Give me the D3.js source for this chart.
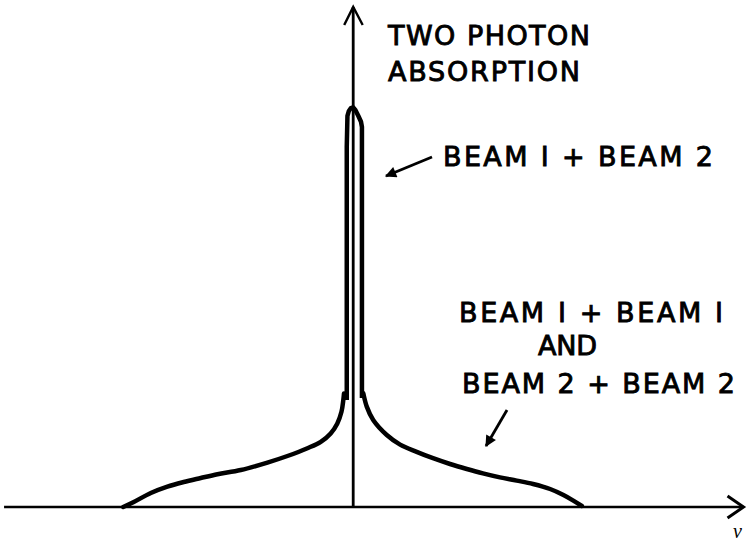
<!DOCTYPE html>
<html>
<head>
<meta charset="utf-8">
<script src="https://cdn.jsdelivr.net/npm/d3@7"></script>
<style>
  html, body { margin: 0; padding: 0; background: #fff; }
  svg { display: block; }
  .lbl { font-family: "DejaVu Sans", "Liberation Sans", sans-serif; font-size: 27px; fill: #000; stroke: #000; stroke-width: 0.9px; }
  .nu { font-family: "Liberation Serif", "Times New Roman", serif; font-style: italic; font-size: 20px; fill: #000; }
</style>
</head>
<body>
<script>
// ---- data (frequency detuning units, normalised absorption) ----
// Broad Doppler background: BEAM 1 + BEAM 1 and BEAM 2 + BEAM 2
const broadLeftX  = [-1.000, -0.954, -0.880, -0.808, -0.737, -0.663, -0.590, -0.489, -0.373, -0.286, -0.199, -0.141, -0.098, -0.069, -0.051, -0.043, -0.040];
const broadLeftY  = [ 0.000,  0.0125, 0.035,  0.051,  0.0625, 0.0725, 0.082,  0.0925, 0.111,  0.1275, 0.147,  0.163,  0.184,  0.209,  0.238,  0.2675, 0.284];
const broadRightX = [0.044, 0.059, 0.087, 0.146, 0.204, 0.276, 0.347, 0.421, 0.494, 0.564, 0.638, 0.711, 0.782, 0.856, 0.914, 0.957, 0.994];
const broadRightY = [0.284, 0.251, 0.2175, 0.180, 0.156, 0.138, 0.122, 0.1075, 0.095, 0.084, 0.074, 0.066, 0.0575, 0.045, 0.030, 0.016, 0.0025];
// Narrow Doppler-free peak: BEAM 1 + BEAM 2
const peakX = [-0.028, -0.028, -0.025, -0.019, -0.010, 0.000, 0.010, 0.022, 0.034, 0.038, 0.038];
const peakY = [ 0.2675, 0.90,   0.978,  0.990,   0.997,  0.999, 0.992, 0.978, 0.963, 0.950, 0.2725];
// axis extents
const xAxisExtent = [-1.518, 1.697];
const yAxisExtent = [0, 1.25];
// labels
const titleLines = ["TWO PHOTON", "ABSORPTION"];
const crossLabel = "BEAM I + BEAM 2";
const selfLabels = ["BEAM I + BEAM I", "AND", "BEAM 2 + BEAM 2"];
const xLabel = "ν";

// ---- layout ----
const W = 748, H = 543;
const x = d3.scaleLinear().domain([-1.5, 1.7]).range([8.2, 744.2]);
const y = d3.scaleLinear().domain([0, 1]).range([507, 107]);

const svg = d3.select("body").append("svg").attr("width", W).attr("height", H);

const zip = (xs, ys) => xs.map((v, i) => [v, ys[i]]);
const line = d3.line().x(d => x(d[0])).y(d => y(d[1]));

// axes
svg.append("line")
  .attr("x1", x(xAxisExtent[0])).attr("x2", x(xAxisExtent[1]))
  .attr("y1", y(0)).attr("y2", y(0))
  .attr("stroke", "#000").attr("stroke-width", 2.5);
svg.append("path")
  .attr("d", `M${x(xAxisExtent[1]) - 16},${y(0) - 11} L${x(xAxisExtent[1])},${y(0)} L${x(xAxisExtent[1]) - 16},${y(0) + 11}`)
  .attr("fill", "none").attr("stroke", "#000").attr("stroke-width", 3).attr("stroke-linejoin", "miter");

svg.append("line")
  .attr("x1", x(0)).attr("x2", x(0))
  .attr("y1", y(yAxisExtent[0])).attr("y2", y(yAxisExtent[1]))
  .attr("stroke", "#000").attr("stroke-width", 2.8);
svg.append("path")
  .attr("d", `M${x(0) - 9},${y(yAxisExtent[1]) + 18} L${x(0)},${y(yAxisExtent[1])} L${x(0) + 9.5},${y(yAxisExtent[1]) + 18}`)
  .attr("fill", "none").attr("stroke", "#000").attr("stroke-width", 2.4);

// broad curve
svg.append("path")
  .attr("d", line.curve(d3.curveCatmullRom.alpha(0.5))(zip(broadLeftX, broadLeftY)))
  .attr("fill", "none").attr("stroke", "#000").attr("stroke-width", 4.5).attr("stroke-linecap", "round");
svg.append("path")
  .attr("d", line.curve(d3.curveCatmullRom.alpha(0.5))(zip(broadRightX, broadRightY)))
  .attr("fill", "none").attr("stroke", "#000").attr("stroke-width", 4.5).attr("stroke-linecap", "round");

// narrow peak
svg.append("path")
  .attr("d", line.curve(d3.curveLinear)(zip(peakX, peakY)))
  .attr("fill", "none").attr("stroke", "#000").attr("stroke-width", 4.5).attr("stroke-linejoin", "round");

// arrow marker
svg.append("defs").append("marker")
  .attr("id", "ah").attr("viewBox", "0 0 10 10").attr("refX", 9).attr("refY", 5)
  .attr("markerWidth", 5).attr("markerHeight", 4).attr("orient", "auto").attr("markerUnits", "strokeWidth")
  .append("path").attr("d", "M0,0 L10,5 L0,10 Z").attr("fill", "#000");

svg.append("line").attr("x1", 432).attr("y1", 157).attr("x2", 386).attr("y2", 176)
  .attr("stroke", "#000").attr("stroke-width", 2.8).attr("marker-end", "url(#ah)");
svg.append("line").attr("x1", 507).attr("y1", 410).attr("x2", 486).attr("y2", 446)
  .attr("stroke", "#000").attr("stroke-width", 2.8).attr("marker-end", "url(#ah)");

// labels
const addLabel = (t, px, py, len) => svg.append("text").attr("class", "lbl")
  .attr("x", px).attr("y", py).attr("textLength", len).attr("lengthAdjust", "spacing").text(t);

addLabel(titleLines[0], 388, 45, 202);
addLabel(titleLines[1], 388, 81, 192);
addLabel(crossLabel, 443, 166, 270);
addLabel(selfLabels[0], 459, 322, 264);
addLabel(selfLabels[1], 538, 355, 59);
addLabel(selfLabels[2], 462, 393, 273);

svg.append("text").attr("class", "nu").attr("x", 733).attr("y", 538).text(xLabel);
</script>
</body>
</html>
